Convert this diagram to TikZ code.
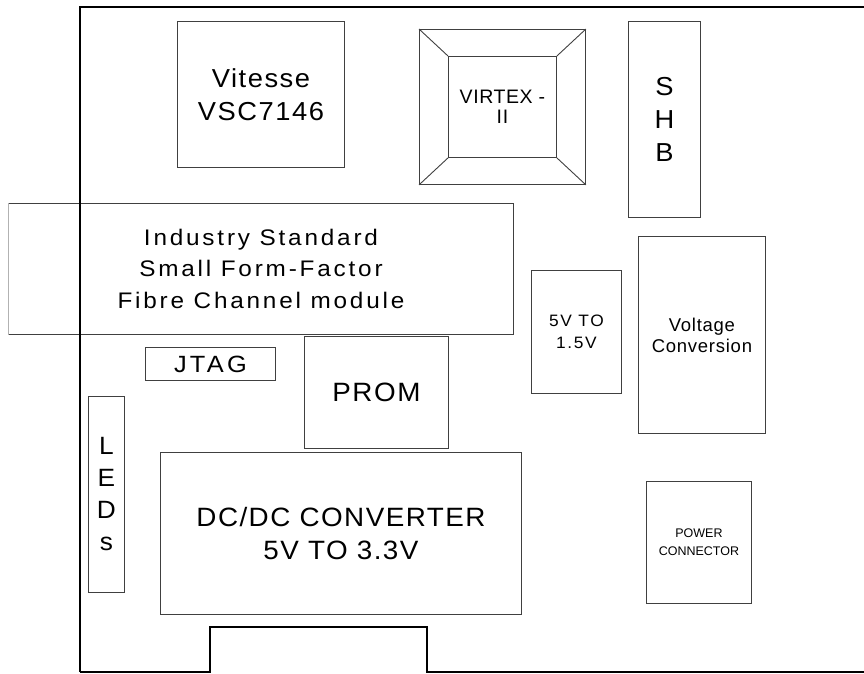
\documentclass[tikz,border=0pt]{standalone}
\usepackage{fontspec}
\setmainfont{Liberation Sans}
\newcommand{\fs}[4]{\fontsize{#1}{#2}\selectfont\addfontfeature{FakeStretch=#3,LetterSpace=#4}}
\begin{document}
\begin{tikzpicture}[x=1pt,y=-1pt,
  box/.style={draw=black!75, line width=0.9pt, inner sep=0pt, align=center, anchor=north west},
  board/.style={draw=black, line width=1.4pt}]
\useasboundingbox (0,0) rectangle (864,673);
% board outline
\draw[board] (80,672) -- (80,7) -- (864,7);
\draw[board] (80,672) -- (210,672) -- (210,627) -- (427,627) -- (427,672) -- (864,672);
% Vitesse
\node[box, minimum width=167pt, minimum height=146pt, font={\fs{26}{33}{1.05}{6}}] (vit) at (177,21)
  {Vitesse\\VSC7146};
% Virtex
\node[box, minimum width=166pt, minimum height=155pt] (vxo) at (419,29) {};
\node[box, minimum width=108pt, minimum height=101pt, font={\fs{19.5}{20}{1.0}{3}}] (vxi) at (448,56)
  {VIRTEX -\\II};
\draw[black!75, line width=0.9pt] (vxo.north west) -- (vxi.north west);
\draw[black!75, line width=0.9pt] (vxo.north east) -- (vxi.north east);
\draw[black!75, line width=0.9pt] (vxo.south west) -- (vxi.south west);
\draw[black!75, line width=0.9pt] (vxo.south east) -- (vxi.south east);
% SHB
\node[box, minimum width=72pt, minimum height=196pt, font={\fs{26}{33}{1.05}{0}}] (shb) at (628,21)
  {S\\H\\B};
% Industry standard module
\node[box, minimum width=505pt, minimum height=131pt, font={\fs{22.5}{31.5}{1.08}{12.5}}] (sff) at (8,203)
  {Industry Standard\\Small Form-Factor\\Fibre Channel module};
\draw[black!30, line width=0.9pt] (sff.north west) -- (sff.south west);
\draw[board] (80,195) -- (80,345);
% JTAG
\node[box, minimum width=130pt, minimum height=33pt, font={\fs{23.5}{28}{1.08}{14}}] (jtag) at (145,347)
  {JTAG};
% PROM
\node[box, minimum width=144pt, minimum height=112pt, font={\fs{26.5}{30}{1.05}{6}}] (prom) at (304,336)
  {PROM};
% 5V to 1.5V
\node[box, minimum width=90pt, minimum height=123pt, font={\fs{16.5}{22}{1.05}{10}}] (c15) at (531,270)
  {5V TO\\1.5V};
% Voltage conversion
\node[box, minimum width=127pt, minimum height=197pt, font={\fs{18.5}{21}{1.0}{4}}] (vconv) at (638,236)
  {Voltage\\Conversion};
% LEDs
\node[box, minimum width=36pt, minimum height=196pt, font={\fs{25}{32}{1.05}{0}}] (leds) at (88,396)
  {L\\E\\D\\s};
% DC/DC converter
\node[box, minimum width=361pt, minimum height=162pt, font={\fs{26.5}{33}{1.05}{5.5}}] (dcdc) at (160,452)
  {DC/DC CONVERTER\\5V TO 3.3V};
% Power connector
\node[box, minimum width=105pt, minimum height=122pt, font={\fs{12.5}{18}{1.0}{0}}] (pwr) at (646,481)
  {POWER\\CONNECTOR};
\end{tikzpicture}
\end{document}
